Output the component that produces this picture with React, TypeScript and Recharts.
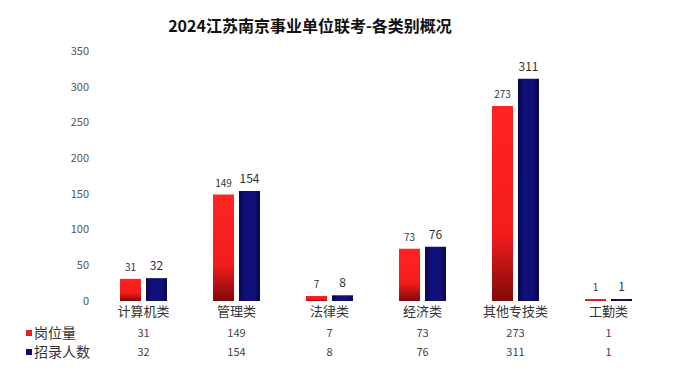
import { BarChart, Bar, XAxis, YAxis, LabelList } from "recharts";

const categories = ["计算机类", "管理类", "法律类", "经济类", "其他专技类", "工勤类"];
const posts = [31, 149, 7, 73, 273, 1];
const hires = [32, 154, 8, 76, 311, 1];
const yTicks = [0, 50, 100, 150, 200, 250, 300, 350];

const chartData = categories.map((name, i) => ({
    name,
    posts: posts[i],
    hires: hires[i],
}));

const FONT = '"Noto Sans CJK SC", "Noto Sans", sans-serif';

// category name + the two table rows under it
function TableTick(props: any) {
    const { x, y, payload, index } = props;
    return (
        <g>
            <text x={x} y={y + 7} textAnchor="middle" fontSize={13} fill="#333" fontFamily={FONT}>
                {payload.value}
            </text>
            <text x={x} y={y + 28} textAnchor="middle" fontSize={11} fill="#444" fontFamily={FONT}>
                {posts[index]}
            </text>
            <text x={x} y={y + 47} textAnchor="middle" fontSize={11} fill="#444" fontFamily={FONT}>
                {hires[index]}
            </text>
        </g>
    );
}

export default function App() {
    return (
        <div
            style={{
                position: "absolute",
                left: 0,
                top: 0,
                width: 675,
                height: 384,
                background: "#fff",
                fontFamily: FONT,
            }}
        >
            <div
                style={{
                    position: "absolute",
                    left: 0,
                    top: 14,
                    width: 620,
                    textAlign: "center",
                    fontSize: 16,
                    fontWeight: 700,
                    color: "#111",
                    lineHeight: "22px",
                }}
            >
                2024江苏南京事业单位联考-各类别概况
            </div>
            <BarChart
                width={675}
                height={384}
                data={chartData}
                margin={{ top: 51, right: 20, left: 0, bottom: 0 }}
                barGap={5}
                barSize={21}
            >
                <defs>
                    <linearGradient id="redGrad" x1="0" y1="0" x2="0" y2="1">
                        <stop offset="0%" stopColor="#ff2424" />
                        <stop offset="65%" stopColor="#f51c1c" />
                        <stop offset="100%" stopColor="#800a0a" />
                    </linearGradient>
                    <linearGradient id="blueGrad" x1="0" y1="0" x2="1" y2="0">
                        <stop offset="0%" stopColor="#07074a" />
                        <stop offset="30%" stopColor="#10107a" />
                        <stop offset="70%" stopColor="#10107a" />
                        <stop offset="100%" stopColor="#07074a" />
                    </linearGradient>
                </defs>
                <XAxis
                    dataKey="name"
                    height={83}
                    axisLine={false}
                    tickLine={false}
                    interval={0}
                    tick={<TableTick />}
                />
                <YAxis
                    width={97}
                    domain={[0, 350]}
                    ticks={yTicks}
                    axisLine={false}
                    tickLine={false}
                    tick={{ fill: "#555", fontSize: 11, fontFamily: FONT }}
                />
                <Bar dataKey="posts" fill="url(#redGrad)" minPointSize={2} isAnimationActive={false}>
                    <LabelList dataKey="posts" position="top" offset={8} fontSize={10} fill="#333" fontFamily={FONT} />
                </Bar>
                <Bar dataKey="hires" fill="url(#blueGrad)" minPointSize={2} isAnimationActive={false}>
                    <LabelList dataKey="hires" position="top" offset={8} fontSize={12} fill="#333" fontFamily={FONT} />
                </Bar>
            </BarChart>
            <div style={{ position: "absolute", left: 26, top: 323, fontSize: 14, color: "#333", lineHeight: "19px" }}>
                <div style={{ display: "flex", alignItems: "center" }}>
                    <span style={{ width: 6, height: 6, background: "#ee1c1c", marginRight: 2 }} />
                    岗位量
                </div>
                <div style={{ display: "flex", alignItems: "center" }}>
                    <span style={{ width: 6, height: 6, background: "#0c0c6e", marginRight: 2 }} />
                    招录人数
                </div>
            </div>
        </div>
    );
}
